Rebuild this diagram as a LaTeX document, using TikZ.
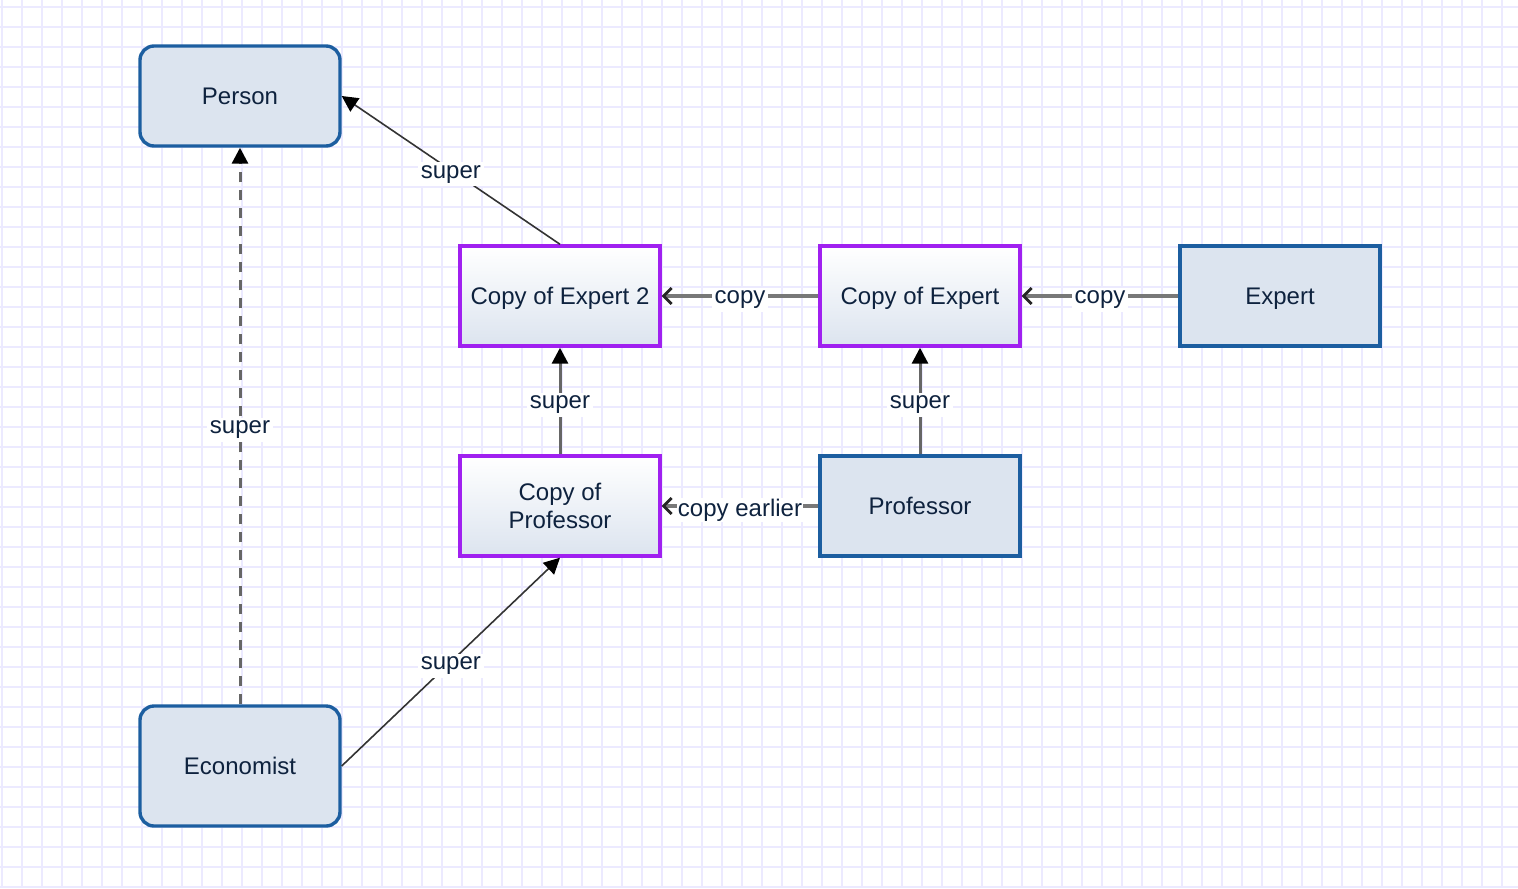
\documentclass[tikz,border=0pt]{standalone}
\usepackage{fontspec}
\setmainfont{Liberation Sans}
\usetikzlibrary{arrows.meta}
\definecolor{gridline}{RGB}{236,234,255}
\definecolor{classblue}{RGB}{28,94,160}
\definecolor{classfill}{RGB}{220,228,239}
\definecolor{copypurple}{RGB}{160,32,240}
\definecolor{labeltext}{RGB}{14,34,62}
\definecolor{copyline}{RGB}{120,120,120}
\tikzset{
  % Three box styles: rounded class, square class and copied class
  round class/.style={rectangle,draw=classblue,line width=1.7pt,fill=classfill,rounded corners=7pt,
    minimum width=100pt,minimum height=50pt,text=labeltext,align=center,text depth=0pt},
  square class/.style={round class,rounded corners=0pt},
  copy class/.style={square class,draw=copypurple,top color=white,bottom color=classfill},
  % Two edge styles: super (filled head) and copy (open head)
  super edge/.style={draw=black!80,line width=0.8pt,-{Triangle[length=8pt,width=8pt,color=black]}},
  copy edge/.style={draw=copyline,line width=1.8pt,-{Straight Barb[length=4pt,width=8pt,line width=1.4pt,color=black!85]}},
  edge label/.style={fill=white,inner sep=1.5pt,yshift=-2pt,text=labeltext}
}

\begin{document}
\begin{tikzpicture}[x=0.5pt,y=-0.5pt,font=\fontsize{12}{14}\selectfont]
  \useasboundingbox (0,0) rectangle (1518,888);
  % background grid
  \foreach \x in {2,22,...,1518} \draw[gridline,line width=0.6pt] (\x,0) -- (\x,888);
  \foreach \y in {7,27,...,888} \draw[gridline,line width=0.6pt] (0,\y) -- (1518,\y);
  % The classes
  \node(person)[round class] at (240,96) {Person};
  \node(econ)[round class,minimum height=60pt] at (240,766) {Economist};
  \node(ce2)[copy class] at (560,296) {Copy of Expert 2};
  \node(ce)[copy class] at (920,296) {Copy of Expert};
  \node(expert)[square class] at (1280,296) {Expert};
  \node(cp)[copy class] at (560,506) {Copy of\\Professor};
  \node(prof)[square class] at (920,506) {Professor};
  % super links
  \draw[super edge] (ce2.north) -- node[edge label]{super} (person.east);
  \draw[super edge,draw=black!60,line width=1.5pt,dash pattern=on 5pt off 4pt] (econ.north) -- node[edge label]{super} (person.south);
  \draw[super edge,draw=black!60,line width=1.5pt] (cp.north) -- node[edge label]{super} (ce2.south);
  \draw[super edge,draw=black!60,line width=1.5pt] (prof.north) -- node[edge label]{super} (ce.south);
  \draw[super edge] (econ.east) -- node[edge label]{super} (cp.south);
  % copy links
  \draw[copy edge] (ce.west) -- node[edge label]{copy} (ce2.east);
  \draw[copy edge] (expert.west) -- node[edge label]{copy} (ce.east);
  \draw[copy edge] (prof.west) -- node[edge label,inner sep=0.5pt]{copy earlier} (cp.east);
\end{tikzpicture}
\end{document}
